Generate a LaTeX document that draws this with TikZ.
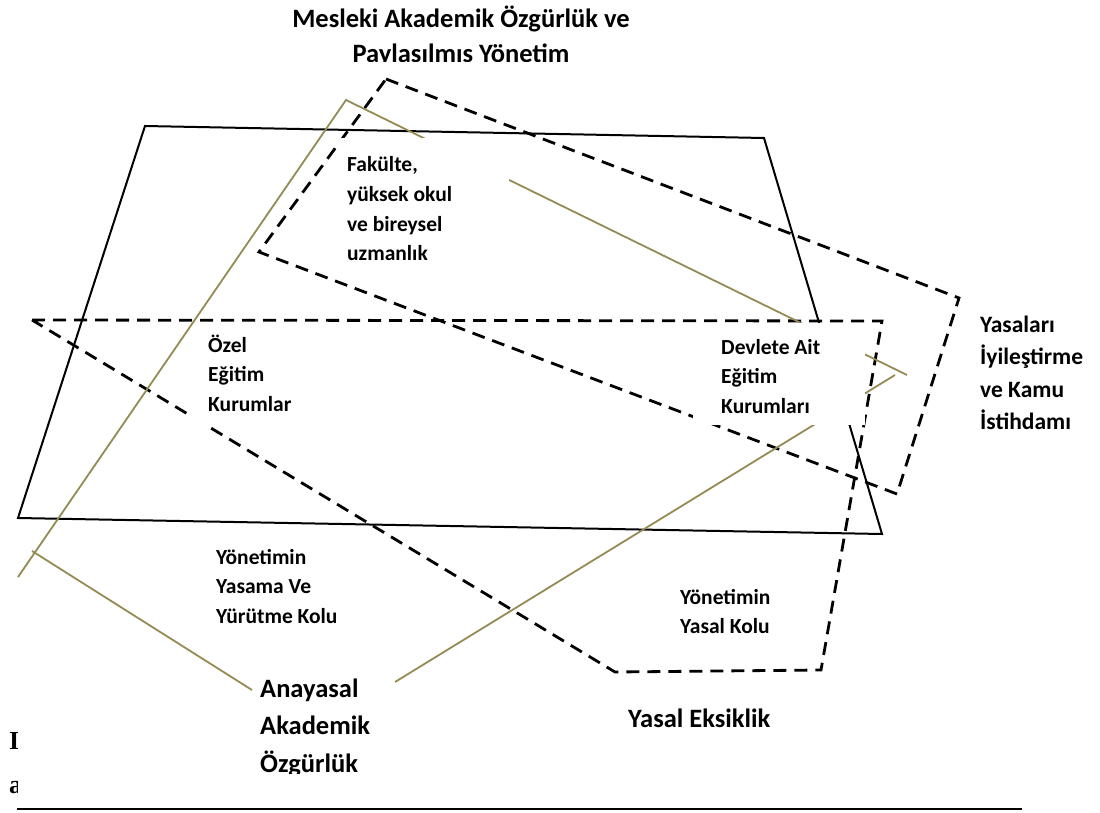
\documentclass[tikz,border=0pt]{standalone}
\usepackage{fontspec}
\setmainfont{Carlito}
\newfontfamily\captionserif{Liberation Serif}
\definecolor{lineolive}{RGB}{148,138,84}
\newcommand{\txtlines}[2][l]{\begin{tabular}[t]{@{}#1@{}}#2\end{tabular}}

\begin{document}
\begin{tikzpicture}[x=1pt, y=-1pt,
    solid edge/.style={line width=2pt},
    gap edge/.style={line width=2.8pt, dash pattern=on 13pt off 8pt},
    olive edge/.style={draw=lineolive, line width=1.8pt},
    cover/.style={fill=white},
    smalltext/.style={anchor=base west, inner sep=0pt, font=\bfseries\fontsize{21.5}{29.5}\selectfont},
    midtext/.style={anchor=base west, inner sep=0pt, font=\bfseries\fontsize{23.5}{32.5}\selectfont},
    bigtext/.style={anchor=base west, inner sep=0pt, font=\bfseries\fontsize{26.5}{37.5}\selectfont}]
  \useasboundingbox (0,0) rectangle (1100,813);
  %\draw[lightgray] (0,0) grid[step=100] (1100,813);
  % solid frame
  \draw[solid edge] (145,126) -- (764,138) -- (882,534) -- (18,518) -- cycle;
  % dashed shapes
  \draw[gap edge] (386,79) -- (959,298) -- (897,494) -- (259,252) -- cycle;
  \draw[gap edge] (32,320) -- (882,321) -- (821,670) -- (615,672) -- cycle;
  % olive lines
  \draw[olive edge] (907,375) -- (346,100) -- (18,577);
  \draw[olive edge] (32,551) -- (252,690);
  \draw[olive edge] (895,375) -- (395,682);
  % white boxes behind the texts
  \fill[cover] (339,138) rectangle (509,270);
  \fill[cover] (188,332) rectangle (336,426);
  \fill[cover] (693,323) rectangle (865,425);
  % texts
  \begin{scope}
    \clip (200,0) rectangle (720,62);
    \node[bigtext, anchor=base, font=\bfseries\fontsize{26.5}{35}\selectfont] (title) at (461,28)
      {\txtlines[c]{Mesleki Akademik Özgürlük ve\\Paylaşılmış Yönetim}};
  \end{scope}
  \node[smalltext] (faculty) at (347,172) {\txtlines{Fakülte,\\yüksek okul\\ve bireysel\\uzmanlık}};
  \node[smalltext] (private) at (208,352) {\txtlines{Özel\\Eğitim\\Kurumlar}};
  \node[smalltext] (state) at (721,354) {\txtlines{Devlete Ait\\Eğitim\\Kurumları}};
  \node[midtext] (laws) at (980,332) {\txtlines{Yasaları\\İyileştirme\\ve Kamu\\İstihdamı}};
  \node[smalltext] (exec) at (216,564) {\txtlines{Yönetimin\\Yasama Ve\\Yürütme Kolu}};
  \node[smalltext] (judic) at (680,604) {\txtlines{Yönetimin\\Yasal Kolu}};
  \begin{scope}
    \clip (240,660) rectangle (420,773);
    \node[bigtext] (const) at (260,697) {\txtlines{Anayasal\\Akademik\\Özgürlük}};
  \end{scope}
  \node[bigtext] (gap) at (628,727) {Yasal Eksiklik};
  \begin{scope}
    \clip (0,700) rectangle (17,800);
    \node[anchor=base west, inner sep=0pt, font=\captionserif\bfseries\fontsize{26}{44}\selectfont] (cap) at (9,749)
      {\txtlines{I\\a}};
  \end{scope}
  % rule at the bottom
  \draw[line width=2pt] (17,809) -- (1022,809);
\end{tikzpicture}
\end{document}
